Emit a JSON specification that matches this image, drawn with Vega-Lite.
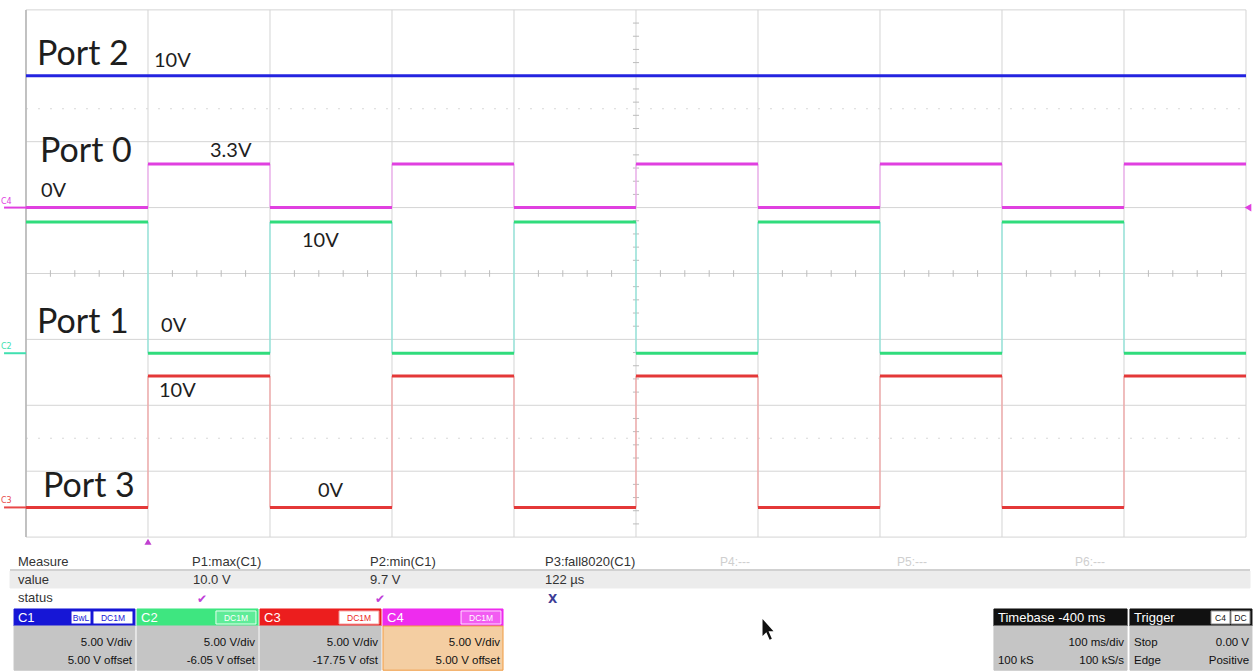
{
  "$schema": "https://vega.github.io/schema/vega-lite/v6.json",
  "width": 1254,
  "height": 671,
  "autosize": {"type": "fit", "contains": "padding"},
  "padding": 0,
  "background": "white",
  "config": {"view": {"stroke": null}},
  "resolve": {"scale": {"color": "independent", "fill": "independent", "stroke": "independent"}},
  "datasets": {
    "vgrid": [{"g":0},{"g":1},{"g":2},{"g":3},{"g":4},{"g":5},{"g":6},{"g":7},{"g":8},{"g":9},{"g":10}],
    "hgrid": [{"g":-4},{"g":-3},{"g":-2},{"g":-1},{"g":0},{"g":1},{"g":2},{"g":3},{"g":4}],
    "dots": [{"g":2.5},{"g":-2.5}],
    "xt": [{"g":0.2},{"g":0.4},{"g":0.6},{"g":0.8},{"g":1.2},{"g":1.4},{"g":1.6},{"g":1.8},{"g":2.2},{"g":2.4},{"g":2.6},{"g":2.8},{"g":3.2},{"g":3.4},{"g":3.6},{"g":3.8},{"g":4.2},{"g":4.4},{"g":4.6},{"g":4.8},{"g":5.2},{"g":5.4},{"g":5.6},{"g":5.8},{"g":6.2},{"g":6.4},{"g":6.6},{"g":6.8},{"g":7.2},{"g":7.4},{"g":7.6},{"g":7.8},{"g":8.2},{"g":8.4},{"g":8.6},{"g":8.8},{"g":9.2},{"g":9.4},{"g":9.6},{"g":9.8}],
    "yt": [{"g":-3.8},{"g":-3.6},{"g":-3.4},{"g":-3.2},{"g":-2.8},{"g":-2.6},{"g":-2.4},{"g":-2.2},{"g":-1.8},{"g":-1.6},{"g":-1.4},{"g":-1.2},{"g":-0.8},{"g":-0.6},{"g":-0.4},{"g":-0.2},{"g":0.2},{"g":0.4},{"g":0.6},{"g":0.8},{"g":1.2},{"g":1.4},{"g":1.6},{"g":1.8},{"g":2.2},{"g":2.4},{"g":2.6},{"g":2.8},{"g":3.2},{"g":3.4},{"g":3.6},{"g":3.8}],
    "traces": [
      {"ch":"C1","x0":0,"x1":10,"lvl":3.0},
      {"ch":"C4","x0":0,"x1":1,"lvl":1.0},{"ch":"C4","x0":1,"x1":2,"lvl":1.66},{"ch":"C4","x0":2,"x1":3,"lvl":1.0},{"ch":"C4","x0":3,"x1":4,"lvl":1.66},{"ch":"C4","x0":4,"x1":5,"lvl":1.0},{"ch":"C4","x0":5,"x1":6,"lvl":1.66},{"ch":"C4","x0":6,"x1":7,"lvl":1.0},{"ch":"C4","x0":7,"x1":8,"lvl":1.66},{"ch":"C4","x0":8,"x1":9,"lvl":1.0},{"ch":"C4","x0":9,"x1":10,"lvl":1.66},
      {"ch":"C2","x0":0,"x1":1,"lvl":0.78},{"ch":"C2","x0":1,"x1":2,"lvl":-1.21},{"ch":"C2","x0":2,"x1":3,"lvl":0.78},{"ch":"C2","x0":3,"x1":4,"lvl":-1.21},{"ch":"C2","x0":4,"x1":5,"lvl":0.78},{"ch":"C2","x0":5,"x1":6,"lvl":-1.21},{"ch":"C2","x0":6,"x1":7,"lvl":0.78},{"ch":"C2","x0":7,"x1":8,"lvl":-1.21},{"ch":"C2","x0":8,"x1":9,"lvl":0.78},{"ch":"C2","x0":9,"x1":10,"lvl":-1.21},
      {"ch":"C3","x0":0,"x1":1,"lvl":-3.55},{"ch":"C3","x0":1,"x1":2,"lvl":-1.555},{"ch":"C3","x0":2,"x1":3,"lvl":-3.55},{"ch":"C3","x0":3,"x1":4,"lvl":-1.555},{"ch":"C3","x0":4,"x1":5,"lvl":-3.55},{"ch":"C3","x0":5,"x1":6,"lvl":-1.555},{"ch":"C3","x0":6,"x1":7,"lvl":-3.55},{"ch":"C3","x0":7,"x1":8,"lvl":-1.555},{"ch":"C3","x0":8,"x1":9,"lvl":-3.55},{"ch":"C3","x0":9,"x1":10,"lvl":-1.555}
    ],
    "edges": [
      {"ch":"C4","x":1,"lo":1.0,"hi":1.66},{"ch":"C4","x":2,"lo":1.0,"hi":1.66},{"ch":"C4","x":3,"lo":1.0,"hi":1.66},{"ch":"C4","x":4,"lo":1.0,"hi":1.66},{"ch":"C4","x":5,"lo":1.0,"hi":1.66},{"ch":"C4","x":6,"lo":1.0,"hi":1.66},{"ch":"C4","x":7,"lo":1.0,"hi":1.66},{"ch":"C4","x":8,"lo":1.0,"hi":1.66},{"ch":"C4","x":9,"lo":1.0,"hi":1.66},
      {"ch":"C2","x":1,"lo":-1.21,"hi":0.78},{"ch":"C2","x":2,"lo":-1.21,"hi":0.78},{"ch":"C2","x":3,"lo":-1.21,"hi":0.78},{"ch":"C2","x":4,"lo":-1.21,"hi":0.78},{"ch":"C2","x":5,"lo":-1.21,"hi":0.78},{"ch":"C2","x":6,"lo":-1.21,"hi":0.78},{"ch":"C2","x":7,"lo":-1.21,"hi":0.78},{"ch":"C2","x":8,"lo":-1.21,"hi":0.78},{"ch":"C2","x":9,"lo":-1.21,"hi":0.78},
      {"ch":"C3","x":1,"lo":-3.55,"hi":-1.555},{"ch":"C3","x":2,"lo":-3.55,"hi":-1.555},{"ch":"C3","x":3,"lo":-3.55,"hi":-1.555},{"ch":"C3","x":4,"lo":-3.55,"hi":-1.555},{"ch":"C3","x":5,"lo":-3.55,"hi":-1.555},{"ch":"C3","x":6,"lo":-3.55,"hi":-1.555},{"ch":"C3","x":7,"lo":-3.55,"hi":-1.555},{"ch":"C3","x":8,"lo":-3.55,"hi":-1.555},{"ch":"C3","x":9,"lo":-3.55,"hi":-1.555}
    ],
    "chmarks": [{"ch":"C4","lvl":1.0},{"ch":"C2","lvl":-1.21},{"ch":"C3","lvl":-3.55}],
    "bigl": [
      {"t":"Port 2","x":0.09,"y":3.164},{"t":"Port 0","x":0.115,"y":1.692},{"t":"Port 1","x":0.09,"y":-0.903},{"t":"Port 3","x":0.139,"y":-3.392}
    ],
    "smalll": [
      {"t":"10V","x":1.049,"y":3.134},{"t":"3.3V","x":1.508,"y":1.768},{"t":"0V","x":0.123,"y":1.161},{"t":"10V","x":2.262,"y":0.402},{"t":"0V","x":1.107,"y":-0.888},{"t":"10V","x":1.09,"y":-1.874},{"t":"0V","x":2.393,"y":-3.392}
    ],
    "prect": [
      {"k":"band","x0":-0.131,"x1":10.033,"y0":-4.514,"y1":-4.772},
      {"k":"h1","x0":-0.098,"x1":0.893,"y0":-5.091,"y1":-5.349},
      {"k":"h2","x0":0.91,"x1":1.902,"y0":-5.091,"y1":-5.349},
      {"k":"h3","x0":1.918,"x1":2.91,"y0":-5.091,"y1":-5.349},
      {"k":"h4","x0":2.926,"x1":3.91,"y0":-5.091,"y1":-5.349},
      {"k":"hk","x0":7.934,"x1":9.025,"y0":-5.091,"y1":-5.349},
      {"k":"hk","x0":9.049,"x1":10.049,"y0":-5.091,"y1":-5.349},
      {"k":"low","x0":-0.098,"x1":0.893,"y0":-5.349,"y1":-6.02},
      {"k":"low","x0":0.91,"x1":1.902,"y0":-5.349,"y1":-6.02},
      {"k":"low","x0":1.918,"x1":2.91,"y0":-5.349,"y1":-6.02},
      {"k":"low4","x0":2.926,"x1":3.91,"y0":-5.349,"y1":-6.02},
      {"k":"low","x0":7.934,"x1":9.025,"y0":-5.349,"y1":-6.02},
      {"k":"low","x0":9.049,"x1":10.049,"y0":-5.349,"y1":-6.02},
      {"k":"b1","x0":0.369,"x1":0.533,"y0":-5.121,"y1":-5.319},
      {"k":"b1","x0":0.549,"x1":0.877,"y0":-5.121,"y1":-5.319},
      {"k":"b2","x0":1.557,"x1":1.885,"y0":-5.121,"y1":-5.319},
      {"k":"b3","x0":2.566,"x1":2.893,"y0":-5.121,"y1":-5.319},
      {"k":"b4","x0":3.566,"x1":3.893,"y0":-5.121,"y1":-5.319},
      {"k":"bk","x0":9.713,"x1":9.869,"y0":-5.121,"y1":-5.319},
      {"k":"bk","x0":9.877,"x1":10.033,"y0":-5.121,"y1":-5.319}
    ],
    "ptext": [
      {"k":"t","t":"Measure","x":-0.066,"y":-4.439},
      {"k":"t","t":"P1:max(C1)","x":1.361,"y":-4.439},
      {"k":"t","t":"P2:min(C1)","x":2.82,"y":-4.439},
      {"k":"t","t":"P3:fall8020(C1)","x":4.254,"y":-4.439},
      {"k":"t","t":"value","x":-0.066,"y":-4.712},
      {"k":"t","t":"10.0 V","x":1.369,"y":-4.712},
      {"k":"t","t":"9.7 V","x":2.82,"y":-4.712},
      {"k":"t","t":"122 µs","x":4.254,"y":-4.712},
      {"k":"t","t":"status","x":-0.066,"y":-4.985},
      {"k":"f","t":"P4:---","x":5.689,"y":-4.439},
      {"k":"f","t":"P5:---","x":7.139,"y":-4.439},
      {"k":"f","t":"P6:---","x":8.598,"y":-4.439},
      {"k":"ok","t":"✔","x":1.402,"y":-5.0},
      {"k":"ok","t":"✔","x":2.861,"y":-5.0},
      {"k":"bad","t":"X","x":4.279,"y":-5.0},
      {"k":"title","t":"C1","x":-0.066,"y":-5.288},
      {"k":"title","t":"C2","x":0.943,"y":-5.288},
      {"k":"title","t":"C3","x":1.951,"y":-5.288},
      {"k":"title","t":"C4","x":2.959,"y":-5.288},
      {"k":"title","t":"Timebase  -400 ms","x":7.967,"y":-5.288},
      {"k":"title","t":"Trigger","x":9.082,"y":-5.288},
      {"k":"right","t":"5.00 V/div","x":0.869,"y":-5.653},
      {"k":"right","t":"5.00 V offset","x":0.869,"y":-5.926},
      {"k":"right","t":"5.00 V/div","x":1.877,"y":-5.653},
      {"k":"right","t":"-6.05 V offset","x":1.877,"y":-5.926},
      {"k":"right","t":"5.00 V/div","x":2.885,"y":-5.653},
      {"k":"right","t":"-17.75 V ofst","x":2.885,"y":-5.926},
      {"k":"right","t":"5.00 V/div","x":3.885,"y":-5.653},
      {"k":"right","t":"5.00 V offset","x":3.885,"y":-5.926},
      {"k":"right","t":"100 ms/div","x":9.0,"y":-5.653},
      {"k":"right","t":"100 kS/s","x":9.0,"y":-5.926},
      {"k":"right","t":"0.00 V","x":10.025,"y":-5.653},
      {"k":"right","t":"Positive","x":10.025,"y":-5.926},
      {"k":"left","t":"100 kS","x":7.967,"y":-5.926},
      {"k":"left","t":"Stop","x":9.082,"y":-5.653},
      {"k":"left","t":"Edge","x":9.082,"y":-5.926}
    ],
    "badges": [
      {"k":"b1","t":"BwL","x":0.451,"y":-5.27},
      {"k":"b1","t":"DC1M","x":0.713,"y":-5.27},
      {"k":"b2","t":"DC1M","x":1.721,"y":-5.27},
      {"k":"b3","t":"DC1M","x":2.73,"y":-5.27},
      {"k":"b4","t":"DC1M","x":3.73,"y":-5.27},
      {"k":"bk","t":"C4","x":9.791,"y":-5.27},
      {"k":"bk","t":"DC","x":9.955,"y":-5.27}
    ],
    "cursor": [{"x":6.082,"y":-5.41}],
    "trig": [{"x":10.016,"y":1.0,"s":"level"},{"x":1.0,"y":-4.07,"s":"time"}]
  },
  "layer": [
    {
      "data": {"name": "prect"},
      "mark": {"type": "rect", "strokeWidth": 1},
      "encoding": {
        "x": {"field": "x0", "type": "quantitative", "scale": {"domain": [-0.2131, 10.0656], "nice": false, "zero": false}, "axis": null},
        "x2": {"field": "x1"},
        "y": {"field": "y0", "type": "quantitative", "scale": {"domain": [-6.032, 4.15], "nice": false, "zero": false}, "axis": null},
        "y2": {"field": "y1"},
        "fill": {"field": "k", "type": "nominal", "legend": null, "scale": {"domain": ["band","h1","h2","h3","h4","hk","low","low4","b1","b2","b3","b4","bk"], "range": ["#ececec","#1616d6","#3ee680","#ec1e1e","#ee2cee","#111111","#c5c5c5","#f4cea2","#ffffff","#5fec98","#ffffff","#f25cf2","#ffffff"]}},
        "stroke": {"field": "k", "type": "nominal", "legend": null, "scale": {"domain": ["band","h1","h2","h3","h4","hk","low","low4","b1","b2","b3","b4","bk"], "range": ["#ececec","#1616d6","#3ee680","#ec1e1e","#ee2cee","#111111","#c5c5c5","#f09a40","#1616d6","#e8fff0","#f4a0a0","#ffe0ff","#888888"]}}
      }
    },
    {
      "data": {"values": [{}]},
      "mark": {"type": "rule", "color": "#a8a8a8", "strokeWidth": 1},
      "encoding": {
        "x": {"datum": -0.131, "type": "quantitative", "scale": {"domain": [-0.2131, 10.0656], "nice": false, "zero": false}, "axis": null},
        "x2": {"datum": 10.033},
        "y": {"datum": -4.499, "type": "quantitative", "scale": {"domain": [-6.032, 4.15], "nice": false, "zero": false}, "axis": null}
      }
    },
    {
      "data": {"name": "vgrid"},
      "mark": {"type": "rule", "color": "#d4d4d4", "strokeWidth": 1},
      "encoding": {
        "x": {"field": "g", "type": "quantitative", "scale": {"domain": [-0.2131, 10.0656], "nice": false, "zero": false}, "axis": null},
        "y": {"datum": -4, "type": "quantitative", "scale": {"domain": [-6.032, 4.15], "nice": false, "zero": false}, "axis": null},
        "y2": {"datum": 4}
      }
    },
    {
      "data": {"name": "hgrid"},
      "mark": {"type": "rule", "color": "#d4d4d4", "strokeWidth": 1},
      "encoding": {
        "y": {"field": "g", "type": "quantitative", "scale": {"domain": [-6.032, 4.15], "nice": false, "zero": false}, "axis": null},
        "x": {"datum": 0, "type": "quantitative", "scale": {"domain": [-0.2131, 10.0656], "nice": false, "zero": false}, "axis": null},
        "x2": {"datum": 10}
      }
    },
    {
      "data": {"name": "dots"},
      "mark": {"type": "rule", "color": "#d8d8d8", "strokeWidth": 1, "strokeDash": [2, 10]},
      "encoding": {
        "y": {"field": "g", "type": "quantitative", "scale": {"domain": [-6.032, 4.15], "nice": false, "zero": false}, "axis": null},
        "x": {"datum": 0, "type": "quantitative", "scale": {"domain": [-0.2131, 10.0656], "nice": false, "zero": false}, "axis": null},
        "x2": {"datum": 10}
      }
    },
    {
      "data": {"name": "xt"},
      "mark": {"type": "rule", "color": "#bcbcbc", "strokeWidth": 1},
      "encoding": {
        "x": {"field": "g", "type": "quantitative", "scale": {"domain": [-0.2131, 10.0656], "nice": false, "zero": false}, "axis": null},
        "y": {"datum": -0.05, "type": "quantitative", "scale": {"domain": [-6.032, 4.15], "nice": false, "zero": false}, "axis": null},
        "y2": {"datum": 0.05}
      }
    },
    {
      "data": {"name": "yt"},
      "mark": {"type": "rule", "color": "#bcbcbc", "strokeWidth": 1},
      "encoding": {
        "y": {"field": "g", "type": "quantitative", "scale": {"domain": [-6.032, 4.15], "nice": false, "zero": false}, "axis": null},
        "x": {"datum": 4.975, "type": "quantitative", "scale": {"domain": [-0.2131, 10.0656], "nice": false, "zero": false}, "axis": null},
        "x2": {"datum": 5.025}
      }
    },
    {
      "data": {"values": [{}]},
      "mark": {"type": "rule", "color": "#b4b4b4", "strokeWidth": 1.5},
      "encoding": {
        "x": {"datum": 0, "type": "quantitative", "scale": {"domain": [-0.2131, 10.0656], "nice": false, "zero": false}, "axis": null},
        "y": {"datum": -4, "type": "quantitative", "scale": {"domain": [-6.032, 4.15], "nice": false, "zero": false}, "axis": null},
        "y2": {"datum": 4}
      }
    },
    {
      "data": {"name": "edges"},
      "mark": {"type": "rule", "strokeWidth": 1.2},
      "encoding": {
        "x": {"field": "x", "type": "quantitative", "scale": {"domain": [-0.2131, 10.0656], "nice": false, "zero": false}, "axis": null},
        "y": {"field": "lo", "type": "quantitative", "scale": {"domain": [-6.032, 4.15], "nice": false, "zero": false}, "axis": null},
        "y2": {"field": "hi"},
        "color": {"field": "ch", "type": "nominal", "legend": null, "scale": {"domain": ["C4","C2","C3"], "range": ["#f0a8f0","#86e6da","#f4a0a0"]}}
      }
    },
    {
      "data": {"name": "traces"},
      "mark": {"type": "rule", "strokeWidth": 3},
      "encoding": {
        "x": {"field": "x0", "type": "quantitative", "scale": {"domain": [-0.2131, 10.0656], "nice": false, "zero": false}, "axis": null},
        "x2": {"field": "x1"},
        "y": {"field": "lvl", "type": "quantitative", "scale": {"domain": [-6.032, 4.15], "nice": false, "zero": false}, "axis": null},
        "color": {"field": "ch", "type": "nominal", "legend": null, "scale": {"domain": ["C1","C2","C3","C4"], "range": ["#2424e0","#30dc7c","#e43838","#e040e0"]}}
      }
    },
    {
      "data": {"name": "chmarks"},
      "mark": {"type": "rule", "strokeWidth": 2},
      "encoding": {
        "x": {"datum": -0.18, "type": "quantitative", "scale": {"domain": [-0.2131, 10.0656], "nice": false, "zero": false}, "axis": null},
        "x2": {"datum": 0},
        "y": {"field": "lvl", "type": "quantitative", "scale": {"domain": [-6.032, 4.15], "nice": false, "zero": false}, "axis": null},
        "color": {"field": "ch", "type": "nominal", "legend": null, "scale": {"domain": ["C4","C2","C3"], "range": ["#e040e0","#40e0b0","#e84848"]}}
      }
    },
    {
      "data": {"name": "chmarks"},
      "mark": {"type": "text", "fontSize": 8, "font": "DejaVu Sans", "align": "left", "baseline": "alphabetic", "dy": -4},
      "encoding": {
        "x": {"datum": -0.205, "type": "quantitative", "scale": {"domain": [-0.2131, 10.0656], "nice": false, "zero": false}, "axis": null},
        "y": {"field": "lvl", "type": "quantitative", "scale": {"domain": [-6.032, 4.15], "nice": false, "zero": false}, "axis": null},
        "text": {"field": "ch"},
        "color": {"field": "ch", "type": "nominal", "legend": null, "scale": {"domain": ["C4","C2","C3"], "range": ["#e040e0","#40e0b0","#e84848"]}}
      }
    },
    {
      "data": {"name": "trig"},
      "transform": [{"filter": "datum.s == 'level'"}],
      "mark": {"type": "point", "shape": "triangle-left", "filled": true, "size": 60, "color": "#e040e0", "opacity": 1},
      "encoding": {
        "x": {"field": "x", "type": "quantitative", "scale": {"domain": [-0.2131, 10.0656], "nice": false, "zero": false}, "axis": null},
        "y": {"field": "y", "type": "quantitative", "scale": {"domain": [-6.032, 4.15], "nice": false, "zero": false}, "axis": null}
      }
    },
    {
      "data": {"name": "trig"},
      "transform": [{"filter": "datum.s == 'time'"}],
      "mark": {"type": "point", "shape": "triangle-up", "filled": true, "size": 50, "color": "#c040d0", "opacity": 1},
      "encoding": {
        "x": {"field": "x", "type": "quantitative", "scale": {"domain": [-0.2131, 10.0656], "nice": false, "zero": false}, "axis": null},
        "y": {"field": "y", "type": "quantitative", "scale": {"domain": [-6.032, 4.15], "nice": false, "zero": false}, "axis": null}
      }
    },
    {
      "data": {"name": "bigl"},
      "mark": {"type": "text", "fontSize": 34, "font": "Lato", "align": "left", "baseline": "alphabetic", "color": "#1e1e1e"},
      "encoding": {
        "x": {"field": "x", "type": "quantitative", "scale": {"domain": [-0.2131, 10.0656], "nice": false, "zero": false}, "axis": null},
        "y": {"field": "y", "type": "quantitative", "scale": {"domain": [-6.032, 4.15], "nice": false, "zero": false}, "axis": null},
        "text": {"field": "t"}
      }
    },
    {
      "data": {"name": "smalll"},
      "mark": {"type": "text", "fontSize": 20, "font": "Lato", "align": "left", "baseline": "alphabetic", "color": "#1e1e1e"},
      "encoding": {
        "x": {"field": "x", "type": "quantitative", "scale": {"domain": [-0.2131, 10.0656], "nice": false, "zero": false}, "axis": null},
        "y": {"field": "y", "type": "quantitative", "scale": {"domain": [-6.032, 4.15], "nice": false, "zero": false}, "axis": null},
        "text": {"field": "t"}
      }
    },
    {
      "data": {"name": "ptext"},
      "transform": [{"filter": "datum.k == 't'"}],
      "mark": {"type": "text", "fontSize": 13, "font": "Liberation Sans", "align": "left", "baseline": "alphabetic", "color": "#333333"},
      "encoding": {
        "x": {"field": "x", "type": "quantitative", "scale": {"domain": [-0.2131, 10.0656], "nice": false, "zero": false}, "axis": null},
        "y": {"field": "y", "type": "quantitative", "scale": {"domain": [-6.032, 4.15], "nice": false, "zero": false}, "axis": null},
        "text": {"field": "t"}
      }
    },
    {
      "data": {"name": "ptext"},
      "transform": [{"filter": "datum.k == 'f'"}],
      "mark": {"type": "text", "fontSize": 12, "font": "Liberation Sans", "align": "left", "baseline": "alphabetic", "color": "#cfcfcf"},
      "encoding": {
        "x": {"field": "x", "type": "quantitative", "scale": {"domain": [-0.2131, 10.0656], "nice": false, "zero": false}, "axis": null},
        "y": {"field": "y", "type": "quantitative", "scale": {"domain": [-6.032, 4.15], "nice": false, "zero": false}, "axis": null},
        "text": {"field": "t"}
      }
    },
    {
      "data": {"name": "ptext"},
      "transform": [{"filter": "datum.k == 'ok'"}],
      "mark": {"type": "text", "fontSize": 12, "font": "DejaVu Sans", "align": "left", "baseline": "alphabetic", "color": "#c040d8"},
      "encoding": {
        "x": {"field": "x", "type": "quantitative", "scale": {"domain": [-0.2131, 10.0656], "nice": false, "zero": false}, "axis": null},
        "y": {"field": "y", "type": "quantitative", "scale": {"domain": [-6.032, 4.15], "nice": false, "zero": false}, "axis": null},
        "text": {"field": "t"}
      }
    },
    {
      "data": {"name": "ptext"},
      "transform": [{"filter": "datum.k == 'bad'"}],
      "mark": {"type": "text", "fontSize": 12, "fontWeight": "bold", "font": "DejaVu Sans", "align": "left", "baseline": "alphabetic", "color": "#3c3c96"},
      "encoding": {
        "x": {"field": "x", "type": "quantitative", "scale": {"domain": [-0.2131, 10.0656], "nice": false, "zero": false}, "axis": null},
        "y": {"field": "y", "type": "quantitative", "scale": {"domain": [-6.032, 4.15], "nice": false, "zero": false}, "axis": null},
        "text": {"field": "t"}
      }
    },
    {
      "data": {"name": "ptext"},
      "transform": [{"filter": "datum.k == 'title'"}],
      "mark": {"type": "text", "fontSize": 13, "font": "Liberation Sans", "align": "left", "baseline": "alphabetic", "color": "#ffffff"},
      "encoding": {
        "x": {"field": "x", "type": "quantitative", "scale": {"domain": [-0.2131, 10.0656], "nice": false, "zero": false}, "axis": null},
        "y": {"field": "y", "type": "quantitative", "scale": {"domain": [-6.032, 4.15], "nice": false, "zero": false}, "axis": null},
        "text": {"field": "t"}
      }
    },
    {
      "data": {"name": "ptext"},
      "transform": [{"filter": "datum.k == 'right'"}],
      "mark": {"type": "text", "fontSize": 11.5, "font": "Liberation Sans", "align": "right", "baseline": "alphabetic", "color": "#111111"},
      "encoding": {
        "x": {"field": "x", "type": "quantitative", "scale": {"domain": [-0.2131, 10.0656], "nice": false, "zero": false}, "axis": null},
        "y": {"field": "y", "type": "quantitative", "scale": {"domain": [-6.032, 4.15], "nice": false, "zero": false}, "axis": null},
        "text": {"field": "t"}
      }
    },
    {
      "data": {"name": "ptext"},
      "transform": [{"filter": "datum.k == 'left'"}],
      "mark": {"type": "text", "fontSize": 11.5, "font": "Liberation Sans", "align": "left", "baseline": "alphabetic", "color": "#111111"},
      "encoding": {
        "x": {"field": "x", "type": "quantitative", "scale": {"domain": [-0.2131, 10.0656], "nice": false, "zero": false}, "axis": null},
        "y": {"field": "y", "type": "quantitative", "scale": {"domain": [-6.032, 4.15], "nice": false, "zero": false}, "axis": null},
        "text": {"field": "t"}
      }
    },
    {
      "data": {"name": "badges"},
      "mark": {"type": "text", "fontSize": 8.5, "font": "Liberation Sans", "align": "center", "baseline": "alphabetic"},
      "encoding": {
        "x": {"field": "x", "type": "quantitative", "scale": {"domain": [-0.2131, 10.0656], "nice": false, "zero": false}, "axis": null},
        "y": {"field": "y", "type": "quantitative", "scale": {"domain": [-6.032, 4.15], "nice": false, "zero": false}, "axis": null},
        "text": {"field": "t"},
        "color": {"field": "k", "type": "nominal", "legend": null, "scale": {"domain": ["b1","b2","b3","b4","bk"], "range": ["#1616d6","#ffffff","#ec1e1e","#ffffff","#111111"]}}
      }
    },
    {
      "data": {"name": "cursor"},
      "mark": {"type": "point", "shape": "M-0.5,-1L-0.5,0.55L-0.15,0.2L0.15,0.9L0.35,0.8L0.05,0.12L0.5,0.12Z", "filled": true, "size": 480, "color": "#111111", "opacity": 1},
      "encoding": {
        "x": {"field": "x", "type": "quantitative", "scale": {"domain": [-0.2131, 10.0656], "nice": false, "zero": false}, "axis": null},
        "y": {"field": "y", "type": "quantitative", "scale": {"domain": [-6.032, 4.15], "nice": false, "zero": false}, "axis": null}
      }
    }
  ]
}
